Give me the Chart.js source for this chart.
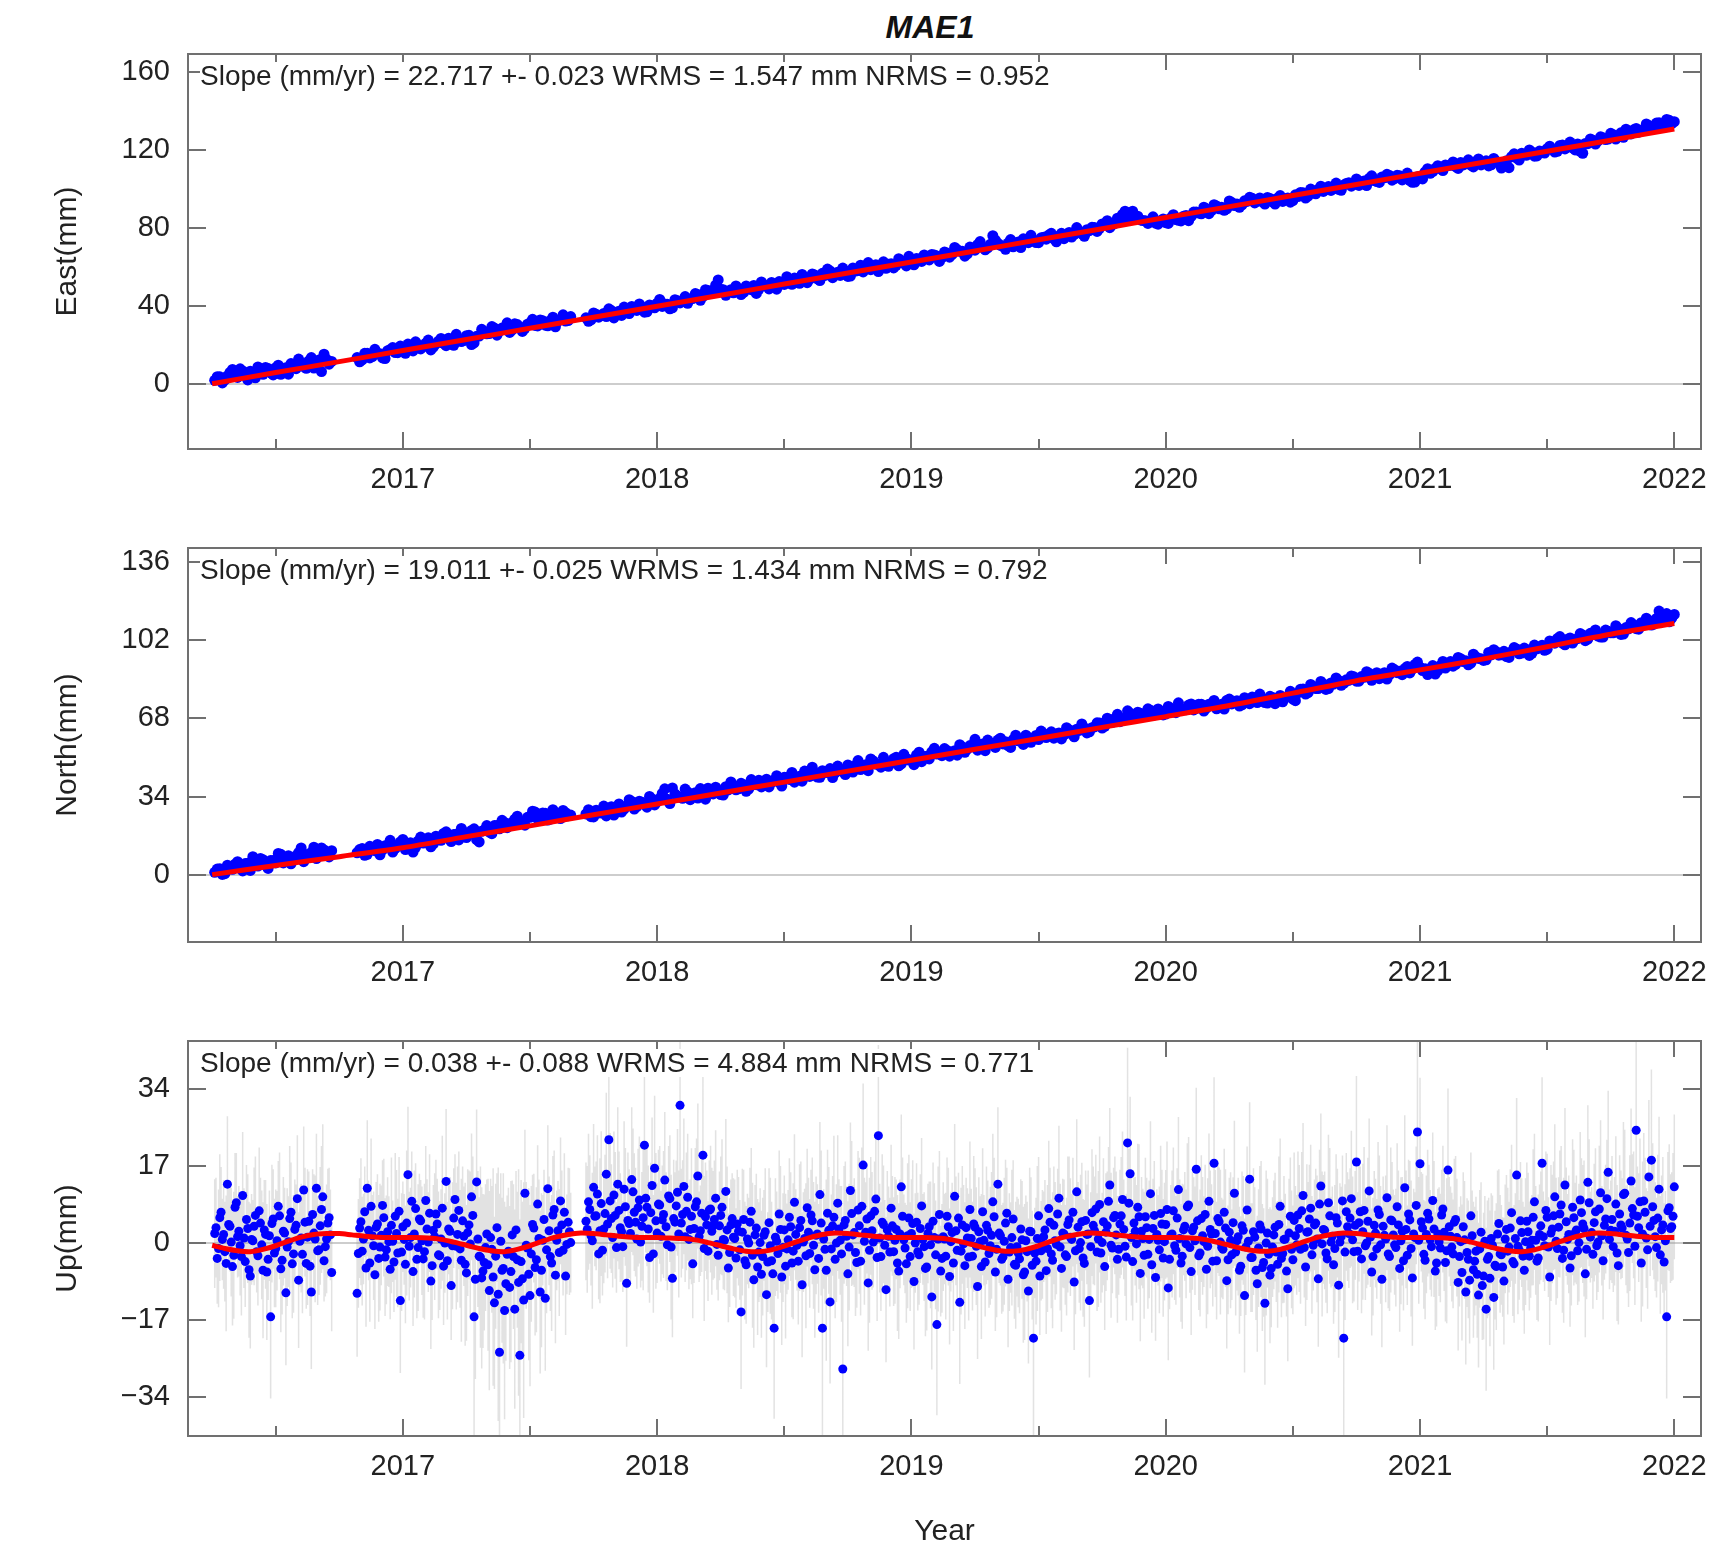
<!DOCTYPE html>
<html><head><meta charset="utf-8">
<script src="https://cdn.jsdelivr.net/npm/chart.js@4.4.1/dist/chart.umd.min.js"></script>
<style>
html,body{margin:0;padding:0;background:#fff;}
#wrap{position:relative;width:1716px;height:1545px;overflow:hidden;background:#fff;}
canvas{position:absolute;left:0;}
.ann{position:absolute;left:200px;font-family:'Liberation Sans',Arial,Helvetica,sans-serif;font-size:28px;line-height:28px;background:#fff;color:#222;white-space:nowrap;padding-right:3px;}
#title{position:absolute;left:780px;width:300px;top:11px;text-align:center;font-family:'Liberation Sans',Arial,Helvetica,sans-serif;font-size:32px;line-height:32px;font-weight:bold;font-style:italic;color:#111;}
</style></head>
<body><div id="wrap">
<div id="title">MAE1</div>
<canvas id="cE" width="1716" height="465" style="top:44px"></canvas>
<canvas id="cN" width="1716" height="464" style="top:538px"></canvas>
<canvas id="cU" width="1716" height="514" style="top:1031px"></canvas>
<div class="ann" style="top:62px">Slope (mm/yr) = 22.717 +- 0.023 WRMS = 1.547 mm NRMS = 0.952</div>
<div class="ann" style="top:556px">Slope (mm/yr) = 19.011 +- 0.025 WRMS = 1.434 mm NRMS = 0.792</div>
<div class="ann" style="top:1049px">Slope (mm/yr) = 0.038 +- 0.088 WRMS = 4.884 mm NRMS = 0.771</div>
</div>
<script>
// ---------------- data ----------------
const yearTicks = [2017, 2018, 2019, 2020, 2021, 2022];
const halfYearTicks = [2016.5, 2017.5, 2018.5, 2019.5, 2020.5, 2021.5];
const eastTicks = [0, 40, 80, 120, 160];
const northTicks = [0, 34, 68, 102, 136];
const upTicks = [-34, -17, 0, 17, 34];

// observing sessions (decimal years): set A and the interleaved set B
const sessionsA = [[2016.26, 2016.72], [2016.82, 2017.66], [2017.72, 2022.00]];
const sessionsB = [[2016.27, 2016.71], [2016.83, 2017.65], [2017.73, 2021.99]];
const upSessionsB = [[2016.265, 2016.715], [2016.825, 2017.655], [2017.725, 2021.995]];
const horizStep = 0.02;
const upStep = 0.01;

const eastValues = [
2.0,3.8,2.3,6.1,4.3,7.9,4.4,6.7,3.3,6.5,8.6,5.9,8.5,5.1,8.5,10.6,8.0,10.6,8.2,13.7,10.7,6.5,12.7,11.7,
13.7,12.5,15.9,14.2,15.9,13.5,17.2,18.8,16.2,18.0,20.6,17.1,20.2,19.3,22.7,19.1,22.1,21.0,23.6,20.0,23.1,22.4,25.1,21.2,24.7,27.1,26.0,28.8,27.3,28.3,26.6,31.0,29.4,28.7,31.5,30.2,33.0,30.3,32.7,29.5,33.1,32.4,34.7,
34.1,33.1,35.9,35.2,34.7,37.8,37.0,35.3,38.2,39.9,
37.9,39.7,37.2,40.1,41.6,39.9,41.1,39.2,42.9,42.6,
41.5,44.0,46.1,45.1,48.1,47.1,53.5,48.5,47.6,46.9,
48.8,47.1,49.1,50.7,48.7,50.9,48.9,51.1,52.7,51.2,
52.5,54.5,51.8,54.2,54.0,56.0,53.2,55.8,58.1,56.0,
55.8,58.0,55.5,58.1,61.1,59.8,58.8,61.3,60.5,59.5,
61.8,61.0,63.3,60.7,62.9,64.5,63.0,64.7,66.6,65.8,
65.0,67.3,66.6,69.1,68.2,66.9,69.8,71.6,70.3,70.0,
76.2,72.3,70.7,72.4,70.5,73.0,74.6,72.6,73.9,72.6,
75.4,76.5,74.6,76.0,74.7,77.9,76.9,78.3,75.9,78.8,
80.4,80.0,82.1,80.3,82.5,84.6,88.8,86.1,85.1,84.3,
83.9,83.3,82.6,83.9,82.9,85.4,84.5,83.8,86.6,86.1,
88.4,87.4,90.0,89.1,91.5,90.8,90.0,93.2,92.4,92.0,
93.8,95.4,94.0,93.5,95.8,93.6,95.5,93.8,95.6,94.2,
96.3,98.2,96.5,98.4,100.0,98.9,101.4,100.7,100.0,102.2,
103.4,102.5,102.0,104.3,105.6,104.5,103.5,105.9,107.1,105.5,
106.9,105.6,104.5,103.7,106.7,108.9,108.2,110.7,110.6,112.5,
112.3,111.6,113.7,113.1,112.4,114.2,112.5,114.6,112.6,114.4,
110.9,114.6,116.7,116.0,118.5,117.5,119.1,117.1,119.2,120.8,
120.6,119.5,122.7,121.6,121.3,123.3,118.5,123.4,125.1,124.8,
126.4,125.8,128.0,127.1,126.7,128.9,130.5,129.3,130.9,132.7,
131.3,134.1,133.0,135.4,134.7];
const eastValuesB = [
3.9,0.7,4.3,7.6,3.5,6.8,2.2,6.0,8.9,5.1,8.1,4.8,9.8,8.0,5.2,9.8,12.9,9.0,12.0,8.3,12.4,15.4,10.3,
11.5,15.9,13.5,17.9,15.6,13.2,17.8,16.3,19.6,15.9,18.8,21.8,18.1,21.1,17.6,20.7,23.5,19.8,22.7,25.6,21.9,24.9,20.4,24.6,28.2,25.9,29.6,25.2,28.8,31.5,27.9,30.6,27.1,30.8,33.3,29.9,32.6,30.0,34.4,32.4,35.6,32.7,
32.3,36.6,34.4,36.3,38.7,34.0,37.4,39.6,36.3,38.3,
41.2,37.0,40.7,39.2,43.5,41.2,38.7,43.4,41.7,45.0,
43.8,46.5,43.1,48.5,46.8,50.8,48.8,45.6,48.5,50.4,
46.0,50.4,48.5,46.6,52.5,50.5,52.2,48.8,52.1,55.2,
51.3,54.1,56.3,52.1,56.6,54.1,56.9,59.1,54.7,57.5,
59.6,55.3,59.7,58.3,57.6,62.4,60.3,57.8,62.8,61.6,
59.7,64.4,62.2,65.6,61.3,64.3,66.3,63.8,66.3,63.0,
67.8,65.2,70.2,68.2,65.7,70.4,68.8,73.2,69.0,71.8,
73.9,71.3,69.2,74.2,72.3,70.1,74.1,76.4,72.7,75.1,
74.4,77.4,73.1,77.4,76.7,75.5,80.4,77.2,79.3,80.5,
78.4,82.2,83.9,81.7,85.2,87.1,84.7,88.8,86.2,84.0,
82.5,85.9,82.1,84.8,82.5,87.0,84.1,86.2,83.9,88.3,
87.8,90.8,87.5,92.1,90.0,89.2,94.0,91.7,90.8,94.1,
95.9,93.0,95.6,92.4,95.3,92.4,96.8,95.1,93.4,97.2,
98.4,95.5,100.1,97.7,101.6,99.8,99.4,103.2,99.5,103.0,
101.6,105.3,103.8,101.9,106.9,104.0,106.3,107.7,104.7,107.2,
104.8,108.3,103.6,106.5,105.3,110.6,109.1,112.1,109.6,112.1,
114.0,110.7,112.5,115.1,111.5,115.6,113.3,112.0,115.8,113.6,
113.0,111.1,118.2,115.0,117.6,120.2,117.0,119.6,118.6,122.1,
119.1,122.5,120.7,124.2,120.2,119.4,123.5,125.8,123.2,126.9,
125.5,128.7,125.8,129.0,130.8,128.4,131.2,129.9,133.5,131.8,
134.0,132.1,135.8,133.7];

const northValues = [
1.1,2.7,0.5,2.9,4.6,2.8,4.9,1.9,4.7,7.1,4.2,6.2,5.2,8.9,6.7,4.8,8.2,11.7,7.6,9.7,7.1,11.7,9.3,10.5,
9.6,11.4,8.9,11.0,13.2,10.9,12.7,9.9,12.8,15.4,12.4,9.9,14.7,13.8,16.1,13.5,15.8,18.0,15.6,17.5,15.2,18.6,17.7,20.0,14.3,19.5,18.6,21.4,20.0,22.8,21.3,24.2,22.7,21.6,25.0,27.3,24.3,26.8,24.2,26.7,24.5,27.0,26.0,
26.5,25.3,28.1,26.9,25.6,29.6,28.5,27.3,30.0,31.9,
29.7,31.6,29.4,33.0,31.7,35.4,32.9,37.8,34.3,33.3,
36.0,34.6,33.4,35.9,37.7,35.2,36.8,34.7,36.9,38.8,
37.4,39.2,37.3,39.2,41.1,39.7,38.2,41.2,40.2,42.4,
41.5,40.3,42.9,45.1,42.8,44.4,42.4,44.4,46.2,44.3,
45.8,43.6,46.0,47.6,45.8,47.9,50.4,48.1,46.8,49.0,
48.7,51.1,48.2,50.6,49.9,52.1,49.2,51.6,53.5,52.5,
51.8,54.1,53.4,52.0,55.6,54.7,55.7,54.2,56.9,58.6,
56.8,58.6,56.9,56.2,58.8,58.3,56.7,59.7,59.2,58.8,
61.4,60.7,59.4,61.7,60.9,63.1,60.0,62.8,63.9,62.2,
64.3,66.0,64.6,66.2,68.0,66.6,68.3,70.2,68.9,70.3,
69.3,71.6,69.7,71.2,69.9,72.4,70.5,72.2,71.8,74.3,
72.4,74.2,72.5,74.1,72.2,74.2,75.8,74.3,75.7,73.9,
75.8,77.3,74.9,76.6,74.7,77.1,76.0,75.2,77.4,76.4,
79.1,80.8,79.2,81.9,81.0,83.0,81.0,82.9,84.5,83.2,
84.5,86.1,84.2,85.9,87.6,86.2,85.3,87.9,87.1,89.2,
88.5,89.7,87.8,91.5,90.3,89.6,88.0,87.3,91.0,89.9,
92.7,91.5,94.0,93.1,92.0,94.8,93.9,93.5,95.6,97.0,
95.7,94.9,97.0,98.2,96.4,97.9,96.3,98.3,99.8,98.1,
101.1,102.7,100.8,102.4,100.8,102.7,104.3,102.5,104.5,103.8,
103.4,105.9,105.2,107.1,104.7,106.9,108.7,106.8,108.7,110.6,
109.0,114.7,111.2,110.0,113.2];
const northValuesB = [
2.5,0.2,4.2,2.4,5.7,1.7,5.0,7.9,3.8,6.6,2.8,6.2,9.3,5.2,8.3,6.5,9.7,5.7,9.1,12.0,8.3,10.8,7.8,
11.0,8.5,12.4,10.5,8.7,12.7,15.0,11.5,14.3,11.0,13.9,12.0,16.4,14.4,12.2,16.8,15.0,18.7,14.5,17.6,20.2,16.2,19.3,15.3,18.9,21.4,17.9,21.5,23.7,20.5,22.8,25.5,22.4,25.0,27.7,24.3,26.9,23.8,28.3,25.4,28.0,25.7,
28.3,25.2,26.9,29.9,28.7,26.0,30.8,28.6,32.7,28.6,
32.0,30.6,34.1,30.4,33.2,37.4,31.0,35.2,33.7,37.3,
32.7,35.7,37.5,32.9,36.2,38.1,34.9,38.3,40.4,37.0,
39.8,36.3,41.4,39.2,38.2,41.6,40.2,43.1,38.6,42.4,
44.5,41.8,40.7,44.4,46.8,42.5,45.3,44.5,42.3,47.3,
44.9,47.8,44.7,49.7,47.3,45.3,49.5,48.0,51.1,47.2,
50.5,47.4,52.4,49.9,47.9,53.3,51.5,50.4,55.0,53.2,
54.9,51.6,54.0,56.6,53.3,56.2,58.9,55.8,54.0,57.4,
55.4,59.4,57.9,55.4,60.7,58.4,60.7,57.6,60.6,62.5,
59.7,62.2,61.2,59.1,64.0,61.2,63.3,65.6,61.7,64.0,
66.1,63.8,68.1,66.3,69.8,67.8,71.3,68.2,70.7,69.7,
72.2,69.3,72.1,69.5,73.2,71.8,74.8,71.9,73.8,71.7,
74.2,71.2,74.2,75.8,73.5,72.1,76.4,75.3,73.4,77.0,
74.4,77.0,78.6,74.9,77.6,74.4,78.0,76.9,79.8,75.7,
80.7,78.6,82.8,81.0,84.1,80.6,83.4,85.6,82.4,84.8,
86.5,84.2,86.2,88.3,84.6,87.9,86.9,85.1,89.9,87.9,
87.0,90.6,89.4,92.5,88.8,87.1,91.0,88.8,92.8,91.6,
90.7,94.5,92.7,91.3,95.9,94.1,93.2,96.7,97.9,95.5,
97.2,94.5,98.8,96.1,98.6,95.4,99.9,98.7,97.6,101.7,
100.7,103.6,100.0,103.0,102.3,104.9,101.8,105.0,106.5,103.4,
106.4,105.2,108.3,104.5,107.5,109.7,107.0,109.6,111.6,108.6,
111.5,110.3,113.6,111.6];

const upValues = [
2.1,-3.4,5.6,0.8,-1.9,13.0,3.7,-5.2,7.9,1.4,
-0.6,10.5,-4.1,3.2,-7.3,0.5,6.1,-2.8,4.4,-6.0,
1.9,-3.6,-16.3,5.3,-1.2,8.1,-5.7,2.6,-11.0,0.3,
6.8,-2.4,3.9,-8.2,1.1,11.7,-4.5,4.8,-10.8,2.2,
12.1,-1.5,7.4,-3.9,0.9,5.6,-6.5,
-11.1,3.3,-1.8,6.9,12.1,-4.4,1.6,-7.0,4.2,-0.9,
8.3,-3.1,2.5,-5.8,0.4,5.9,-2.2,-12.7,3.6,-4.7,
15.1,1.2,-6.3,7.6,-1.0,4.9,-3.5,9.4,0.2,-8.4,
2.8,6.4,-2.6,0.9,-5.1,13.6,3.1,-9.4,5.5,-0.7,
7.2,-3.8,1.5,-6.6,4.0,10.2,-16.3,13.5,-2.9,-7.7,
-4.3,2.0,-10.5,-1.4,-13.2,3.4,-24.1,-6.0,-14.9,-2.5,
-9.8,1.8,-14.6,-3.7,-24.8,-7.9,11.0,-1.1,-11.6,4.1,
-5.4,8.6,-10.8,0.6,-12.2,12.0,-3.0,6.2,-7.1,2.7,
9.3,-1.6,-7.3,4.6,0.1,
4.8,9.1,1.6,12.3,6.0,-2.4,8.7,3.1,15.2,22.8,
5.4,10.6,-1.0,7.2,2.5,11.9,-8.9,4.3,14.0,6.8,
0.9,9.5,3.7,21.6,7.9,-3.2,12.7,16.5,2.2,8.4,
5.1,13.9,-0.4,9.8,-7.8,4.6,11.2,30.4,6.3,1.4,
10.1,3.0,-4.6,8.0,14.8,2.7,19.4,5.8,-1.8,7.5,
3.9,9.9,-2.7,6.1,0.8,11.4,-5.5,4.0,1.3,-3.3,
2.6,-15.2,5.2,-4.8,0.0,7.0,-8.1,3.3,-2.0,-6.9,
1.7,-11.4,4.5,-3.9,-18.8,0.4,6.4,-7.5,2.9,-1.3,
5.7,-4.4,9.0,-0.5,3.4,-9.2,1.0,7.8,-2.3,4.9,
-5.9,2.0,10.7,-18.8,-1.4,6.6,-13.0,3.8,-3.6,8.8,
0.6,-27.8,5.0,-6.8,11.6,1.8,-2.1,7.3,-4.0,17.2,
2.4,-8.8,6.0,0.2,9.7,23.7,-3.0,4.1,-10.3,1.5,
7.7,-1.9,3.0,-6.2,12.4,0.7,-4.6,5.5,2.1,-8.5,
4.6,-2.6,8.2,-0.8,-5.3,3.6,-11.9,1.2,-18.0,6.3,
-3.4,0.9,5.9,-7.4,2.3,10.3,-1.6,-13.1,4.0,-5.0,
1.1,7.4,-2.9,3.5,-9.6,0.3,6.9,-4.2,2.8,-0.6,
9.1,-6.4,13.0,1.6,-3.1,4.4,-8.0,-1.0,5.3,-4.9,
-2.2,3.1,-7.0,0.5,-10.6,2.5,-21.0,-4.0,6.0,-1.7,
1.4,-6.1,7.6,-2.4,3.9,-0.3,9.9,-5.6,2.0,-3.0,
5.1,0.8,-8.6,11.3,-1.2,4.7,-4.5,1.9,-12.7,6.7,
2.7,-2.0,8.5,0.1,-5.2,3.8,12.8,-1.1,6.1,-3.6,
4.2,9.6,-0.7,22.1,15.3,-4.1,2.6,7.9,-6.7,1.0,
5.8,-2.5,10.9,3.2,-7.6,0.6,6.5,-3.3,4.1,-9.9,
1.8,7.1,-1.6,11.8,-4.4,2.9,-0.2,8.4,-6.3,3.5,
16.3,-2.8,5.4,0.3,-5.8,9.2,2.0,17.6,-3.9,4.7,
-1.0,6.8,-8.3,2.4,-2.6,11.0,0.5,-6.0,3.8,-11.6,
7.3,14.1,-3.2,1.3,-9.0,4.0,-5.4,-13.3,2.2,-7.1,
-0.9,3.5,-4.7,8.1,-2.3,0.9,-10.1,5.9,-3.7,1.6,
6.2,-1.4,10.5,-5.3,2.5,7.7,-0.5,4.4,-7.9,12.6,
3.0,-2.2,8.9,0.2,-4.8,5.6,-9.3,1.4,-21.0,6.9,
2.1,9.8,-1.9,17.9,4.5,-3.5,7.2,0.0,11.5,-6.4,
3.9,-1.3,6.3,-8.0,1.7,10.0,-3.0,4.9,-0.4,8.0,
-5.6,2.6,12.2,-2.7,5.1,-7.7,1.2,24.5,17.5,3.3,
-3.8,6.6,0.7,9.4,-6.2,2.0,-1.1,7.5,-4.3,16.1,
1.5,-2.4,5.2,-8.7,0.3,3.6,-10.8,-3.6,6.0,-5.9,
-1.8,-11.5,2.4,-7.3,-14.6,-3.0,1.0,-12.0,-5.2,4.3,
-2.6,-8.4,3.0,-0.9,6.7,-4.6,15.0,-1.5,2.3,-6.0,
4.8,-2.9,0.6,9.1,-4.0,1.9,17.6,-0.6,5.7,-7.5,
3.1,10.2,-1.2,6.4,-3.4,12.8,0.8,-5.5,7.9,2.3,
-1.7,9.5,4.2,-6.8,13.4,1.3,-2.5,6.9,0.2,11.1,
-3.9,5.3,15.6,2.8,-0.8,8.6,-5.0,4.0,10.7,1.7,
-2.1,13.7,6.2,24.9,3.4,-4.4,9.3,1.1,14.6,18.3,
5.0,-1.0,11.9,2.9,-4.2,-16.3,7.8,3.6,12.4];
const upValuesB = [
3.4,-1.2,6.8,1.9,-4.5,4.1,0.2,-2.7,8.9,2.6,
-3.0,1.1,5.2,-5.9,0.8,3.7,-1.9,7.1,-0.4,2.9,
-6.4,1.6,4.3,-2.2,0.5,6.0,-3.8,2.2,-0.9,5.4,
-4.6,3.0,9.8,0.4,-2.5,4.6,1.3,-5.1,6.3,0.9,
-1.7,3.8,10.2,-0.8,4.4,1.8,
-2.3,4.7,0.9,-5.5,2.8,8.1,-0.6,3.5,-3.4,1.7,
5.6,-1.5,0.3,3.9,-4.2,2.1,7.0,-2.0,0.8,4.4,
-0.7,9.2,2.0,-3.6,5.3,0.5,-1.9,3.1,6.6,-5.0,
1.4,4.2,-2.8,7.7,0.0,-3.9,2.6,-0.6,9.6,1.9,
-1.3,4.9,-4.7,2.3,-0.2,6.1,-8.0,0.9,-3.1,-6.2,
-1.0,-4.8,1.2,-7.5,-2.9,-11.3,0.4,-5.6,-9.0,-1.8,
-6.3,-3.0,2.9,-8.7,-4.1,-12.6,-0.5,-6.9,-2.4,3.3,
-3.7,1.0,-6.0,5.2,-1.5,2.7,-4.4,7.4,0.6,-2.1,
4.0,6.8,-0.3,2.5,
3.0,7.4,0.5,5.9,10.8,2.7,-1.6,6.5,4.2,9.3,
1.2,6.1,13.0,3.4,-0.8,8.0,5.0,2.1,11.3,4.6,
7.8,0.2,5.6,9.9,3.1,6.7,-2.4,4.9,8.6,1.5,
6.3,3.6,10.4,-0.9,5.4,8.2,2.0,4.4,12.5,7.0,
0.8,5.9,3.2,9.1,1.4,6.6,-1.2,4.0,7.3,2.6,
5.2,-0.3,3.8,7.9,0.6,2.9,-2.1,5.4,1.0,4.2,
-1.5,2.4,-3.9,0.9,4.6,-2.7,1.8,-5.3,0.1,-3.0,
2.5,-4.2,-0.6,-6.8,1.3,-2.3,3.0,-1.0,-5.1,0.7,
3.6,-1.8,1.9,-4.0,5.0,0.2,-2.8,2.4,6.2,-0.5,
1.7,-3.4,4.4,0.9,-6.0,2.8,-1.3,5.7,0.0,3.1,
-2.4,4.0,1.5,-0.9,6.5,2.3,-4.3,3.8,8.1,0.4,
5.3,-1.6,2.7,7.0,-3.2,1.1,4.6,-0.5,2.9,-2.0,
3.8,0.6,-4.4,2.0,5.9,-1.1,1.6,-3.0,4.3,0.0,
-1.9,3.2,0.8,-5.6,2.1,-0.4,4.8,-2.6,0.9,-6.2,
1.4,-2.9,3.6,0.3,-4.4,2.7,5.5,-1.8,-0.2,3.4,
-3.1,1.0,4.2,-0.7,2.5,-5.2,0.6,3.9,-2.3,1.7,
5.8,-1.4,2.2,-3.6,0.4,6.6,-2.0,1.2,-4.7,-0.8,
-3.5,0.7,-6.4,-1.9,2.6,-4.9,-2.2,1.0,-7.3,-0.3,
2.9,-1.2,4.6,-3.8,0.5,6.4,-0.9,2.2,-2.6,4.1,
1.3,6.8,-1.7,3.5,0.1,-3.3,5.0,2.0,-0.8,3.9,
7.5,0.9,-2.2,4.7,2.4,9.2,-0.5,5.6,1.8,-1.4,
6.0,3.0,-3.1,8.8,1.2,4.4,-0.2,5.8,2.6,-2.7,
3.4,0.8,-4.8,6.1,1.9,-1.5,4.2,0.3,7.4,-3.6,
2.0,-0.6,5.5,1.0,-2.9,3.7,8.0,-1.0,2.7,0.5,
4.9,-2.2,1.6,6.3,-0.7,3.0,-4.0,2.1,5.4,0.2,
-1.4,3.3,-3.7,0.6,4.5,-2.0,1.4,-5.1,2.8,-0.9,
0.4,-3.2,2.5,-6.0,-1.1,3.1,-4.3,0.0,-2.5,-5.6,
1.8,-2.0,4.1,-3.4,0.8,-6.2,2.2,-1.4,5.0,-0.4,
3.2,7.1,-1.0,2.4,5.3,-2.6,4.0,0.9,8.6,-0.2,
2.8,-3.5,6.0,1.5,-1.2,4.4,0.2,9.3,-2.0,3.6,
5.5,0.7,3.9,-1.8,6.9,2.5,-0.6,4.8,1.3,-3.0,
2.2,7.3,-0.4,3.7,0.9,-2.4,5.1,1.8,-1.0,4.0,
0.5,-3.9,3.0,6.4,-1.2,2.0,8.3,0.6,4.7,-2.5,
1.9,5.3,-0.8,3.1,-4.4,0.3,6.2,2.4,-1.7,3.6,
-0.9,4.6,1.2,-3.0,-6.5,0.7,-2.1,-8.2,1.6,-4.0,
-6.9,-1.3,-9.4,0.4,-3.6,-7.8,-0.5,-4.9,2.0,-2.4,
-5.3,0.9,-1.8,3.3,-4.1,1.0,-0.7,4.9,-2.9,0.3,
2.5,-1.1,5.7,0.6,-3.3,3.8,1.4,7.2,-0.9,2.2,
6.0,0.4,3.5,8.4,-1.6,4.7,1.9,-2.8,5.6,2.9,
0.1,6.7,3.2,-1.4,8.9,2.3,4.5,-0.6,7.5,1.6,
3.9,9.8,0.8,5.2,2.6,-2.2,6.4,3.3,11.0,0.9,
4.4,7.6,-0.7,5.9,9.1,2.0,6.8,-1.5,3.7,8.0,
1.4,5.5,-2.6,4.0,0.5,7.1,3.2,5.9];

const upSigma = [
12,10,14,9,11,15,10,13,12,9,11,14,10,12,16,9,13,11,10,15,12,9,18,11,13,10,14,12,16,10,11,13,9,15,12,14,10,11,17,13,12,10,14,9,12,11,13,
14,11,12,10,15,13,9,12,11,14,10,13,12,11,9,14,12,16,10,13,15,11,12,10,14,9,13,12,11,15,10,12,14,11,13,16,10,12,11,14,
13,18,11,15,12,14,28,16,13,20,15,12,22,14,19,12,35,16,24,13,18,12,22,15,30,17,14,12,20,11,15,13,18,10,16,14,12,13,15,11,14,10,13,12,11,
13,15,11,14,12,10,16,12,18,20,12,14,10,13,11,15,14,12,16,13,11,14,12,19,13,10,15,16,11,13,12,15,10,14,13,11,14,22,12,10,
14,11,12,13,16,10,18,12,11,14,12,15,10,13,11,16,12,10,13,11,12,17,11,13,10,14,15,12,11,14,10,16,12,13,20,11,14,15,12,10,
13,12,15,10,14,16,11,13,12,14,15,11,16,24,12,14,18,11,13,15,12,30,13,16,15,11,14,13,12,18,11,15,13,10,14,20,12,13,16,11,
14,12,11,15,16,10,13,14,12,15,13,11,15,12,14,10,16,12,20,14,12,10,13,15,11,16,12,18,13,14,11,15,12,13,16,10,14,12,11,13,
15,13,17,11,12,14,15,10,13,14,12,11,15,10,16,12,22,14,13,11,10,14,15,12,13,11,16,14,12,13,14,10,15,16,12,13,14,11,17,14,
12,13,15,11,14,12,17,10,13,14,12,15,11,21,17,13,12,14,15,11,13,12,16,11,14,10,15,13,12,16,11,14,12,16,13,10,12,15,14,11,
18,12,14,10,13,15,11,19,13,12,11,14,15,12,10,16,11,14,12,17,14,17,12,11,15,13,14,18,12,15,11,12,14,15,11,10,16,13,12,11,
14,12,16,13,11,14,10,12,15,16,12,11,15,10,13,14,16,11,24,13,12,15,11,19,13,12,14,10,16,14,12,11,13,15,10,16,12,13,11,14,
14,12,16,11,13,15,10,26,19,12,13,14,11,15,13,10,12,14,13,18,11,12,14,15,10,12,16,13,14,15,12,16,11,14,18,13,10,16,14,12,
11,14,12,10,15,13,17,11,12,14,13,12,10,15,13,11,19,10,14,15,12,16,11,14,12,17,10,13,15,11,12,15,13,14,17,10,12,14,11,16,
13,12,18,11,10,15,13,12,16,11,12,16,14,26,12,13,15,11,17,20,13,11,16,12,13,18,14,12,16];
const upSigmaB = [
11,13,10,12,15,9,12,14,11,10,13,11,12,15,10,13,9,14,12,11,15,10,13,12,11,14,12,10,13,16,12,11,14,10,13,12,15,11,10,14,12,13,16,11,12,10,
12,14,10,13,11,15,12,10,14,11,13,12,10,15,11,14,12,13,10,16,12,11,14,13,10,12,15,11,13,12,14,10,12,16,11,13,12,14,10,15,
13,12,18,14,16,13,22,15,20,17,14,19,13,24,16,28,15,21,17,14,20,16,13,25,18,26,14,19,15,12,16,13,17,11,14,12,15,13,11,14,12,13,11,14,
14,12,15,11,13,16,10,13,12,15,11,14,17,12,10,13,15,11,14,12,13,10,16,12,14,11,13,15,12,10,14,12,11,16,13,10,14,12,15,13,
11,15,12,14,10,13,16,12,11,14,13,10,12,15,11,14,12,10,13,12,11,14,13,10,12,16,11,15,12,13,14,11,15,12,13,10,14,12,16,11,
12,15,10,14,13,11,16,12,10,14,13,12,16,11,20,14,12,18,13,11,15,13,11,14,16,12,10,15,13,14,12,16,13,11,14,12,15,10,13,12,
11,14,15,12,13,10,16,12,14,11,13,12,10,15,11,14,13,12,16,10,12,14,13,11,15,12,10,14,13,11,14,11,15,13,12,16,10,13,12,14,
13,15,11,12,14,10,13,15,12,11,12,13,15,11,14,12,10,16,13,12,11,14,12,15,13,10,14,12,11,15,13,12,14,10,15,13,11,14,12,13,
12,15,11,14,13,12,16,11,14,10,13,11,14,12,15,10,13,16,12,14,11,13,15,12,10,14,12,13,15,11,14,12,11,13,16,12,14,10,13,12,
12,14,13,11,15,13,10,14,12,16,11,13,12,15,10,14,13,11,12,15,13,12,14,11,13,15,12,16,10,13,12,11,15,13,14,10,12,13,15,11,
14,13,11,15,12,13,10,14,12,16,13,12,15,11,14,12,13,10,15,12,11,14,12,13,10,15,12,14,11,13,12,15,13,11,14,12,16,10,13,12,
14,11,13,12,15,10,13,14,11,12,13,12,11,15,14,12,10,13,16,11,12,14,13,11,15,13,12,14,10,12,14,13,12,10,13,15,11,12,14,13,
11,12,14,13,12,10,15,13,12,14,13,11,15,12,14,12,10,13,11,15,12,14,11,13,16,12,13,11,15,12,13,12,15,11,14,10,13,12,14,11,
12,13,11,14,12,15,13,11,14,12,15,12,13,11,14,16,12,13,11,14,12,14,13,15,11,13,12,14];

// fitted model curves (red)
const modelYears = [2016.25,2016.5,2016.75,2017.0,2017.25,2017.5,2017.75,2018.0,2018.25,2018.5,2018.75,2019.0,2019.25,2019.5,2019.75,2020.0,2020.25,2020.5,2020.75,2021.0,2021.25,2021.5,2021.75,2022.0];
const eastModel = [0.3,6.0,11.6,17.3,23.0,28.7,34.4,40.0,45.7,51.4,57.1,62.7,68.4,74.1,79.8,85.5,91.1,96.8,102.5,108.2,113.9,119.5,125.2,130.9];
const northModel = [0.1,4.1,7.9,11.8,16.6,21.3,26.1,30.8,35.6,40.3,45.1,49.8,54.6,59.3,64.1,68.8,73.6,79.0,84.4,89.1,93.9,99.2,104.6,109.3];
const upModelStart = 2016.25, upModelStep = 0.05;
const upModel = [
-0.5,-1.2,-1.7,-1.9,-1.4,-0.6,0.4,1.3,1.9,2.1,2.1,1.8,1.5,1.3,1.2,
1.2,1.2,1.1,0.8,0.2,-0.5,-1.2,-1.7,-1.9,-1.4,-0.6,0.4,1.3,1.9,2.2,2.1,1.8,1.5,1.3,1.2,
1.2,1.1,1.0,0.7,0.1,-0.6,-1.3,-1.8,-1.9,-1.5,-0.7,0.3,1.2,1.9,2.2,2.1,1.8,1.5,1.3,1.2,
1.2,1.2,1.1,0.8,0.2,-0.5,-1.2,-1.7,-1.8,-1.4,-0.6,0.4,1.3,1.9,2.2,2.1,1.8,1.5,1.3,1.2,
1.2,1.2,1.1,0.8,0.2,-0.5,-1.2,-1.7,-1.8,-1.4,-0.6,0.4,1.3,1.9,2.2,2.1,1.8,1.5,1.3,1.2,
1.2,1.2,1.1,0.8,0.2,-0.5,-1.2,-1.7,-1.9,-1.5,-0.7,0.3,1.2,1.9,2.2,2.1,1.8,1.5,1.3,1.2,
1.2];

// ---------------- helpers ----------------
const FONT = "'Liberation Sans', Arial, Helvetica, sans-serif";
function epochs(segs, step){
  const out = [];
  segs.forEach(([a,b]) => { const n = Math.round((b-a)/step); for (let i=0;i<=n;i++) out.push(+(a+i*step).toFixed(4)); });
  return out;
}
function pts(xs, ys, ss){
  const n = Math.min(xs.length, ys.length, ss ? ss.length : Infinity); const o = [];
  for (let i=0;i<n;i++) o.push(ss ? {x:xs[i], y:ys[i], s:ss[i]} : {x:xs[i], y:ys[i]});
  return o;
}
const fmt = v => v < 0 ? '\u2212' + Math.abs(v) : String(v);

const frameTicks = {
  id: 'frameTicks',
  afterDatasetsDraw(chart){
    const {ctx, chartArea:a, scales:{x, y}} = chart;
    ctx.save();
    ctx.strokeStyle = '#707070'; ctx.lineWidth = 2;
    ctx.strokeRect(a.left, a.top, a.right-a.left, a.bottom-a.top);
    ctx.beginPath();
    yearTicks.forEach(v => { const p = Math.round(x.getPixelForValue(v));
      ctx.moveTo(p, a.bottom); ctx.lineTo(p, a.bottom-17); ctx.moveTo(p, a.top); ctx.lineTo(p, a.top+16); });
    halfYearTicks.forEach(v => { const p = Math.round(x.getPixelForValue(v));
      ctx.moveTo(p, a.bottom); ctx.lineTo(p, a.bottom-10); ctx.moveTo(p, a.top); ctx.lineTo(p, a.top+9); });
    y.ticks.forEach(t => { const p = Math.round(y.getPixelForValue(t.value));
      ctx.moveTo(a.left, p); ctx.lineTo(a.left+18, p); ctx.moveTo(a.right, p); ctx.lineTo(a.right-18, p); });
    ctx.stroke();
    ctx.restore();
  }
};

const errorBars = {
  id: 'errorBars',
  beforeDatasetsDraw(chart){
    const ds = chart.data.datasets[1];
    if (!ds || !ds.data.length || ds.data[0].s === undefined) return;
    const {ctx, chartArea:a, scales:{x, y}} = chart;
    ctx.save();
    ctx.beginPath(); ctx.rect(a.left, a.top, a.right-a.left, a.bottom-a.top); ctx.clip();
    ctx.strokeStyle = 'rgba(150,150,150,0.28)'; ctx.lineWidth = 1.5;
    ctx.beginPath();
    ds.data.forEach(p => {
      const px = x.getPixelForValue(p.x);
      ctx.moveTo(px, y.getPixelForValue(p.y + p.s));
      ctx.lineTo(px, y.getPixelForValue(p.y - p.s));
    });
    ctx.stroke();
    ctx.restore();
  }
};

function makePanel(id, o){
  return new Chart(document.getElementById(id), {
    type: 'scatter',
    data: { datasets: [
      { label: 'model', data: o.model, showLine: true, borderColor: '#ff0000', borderWidth: 5,
        pointRadius: 0, tension: 0.3, fill: false, order: 0 },
      { label: 'obs', data: o.obs, pointRadius: o.r, pointBackgroundColor: '#0000ff',
        pointBorderColor: '#0000ff', pointBorderWidth: 0, backgroundColor: '#0000ff', order: 1 }
    ]},
    options: {
      responsive: false, animation: false, devicePixelRatio: 1,
      layout: { padding: { left: 0, right: 15, top: 10, bottom: 0 } },
      plugins: { legend: { display: false }, tooltip: { enabled: false } },
      scales: {
        x: { type: 'linear', position: 'bottom', min: 2016.155, max: 2022.105,
          afterBuildTicks: s => { s.ticks = yearTicks.map(v => ({value: v})); },
          afterFit: s => { s.height = o.xh; s.paddingLeft = 0; s.paddingRight = 0; },
          grid: { display: false, drawTicks: false }, border: { display: false },
          ticks: { padding: 14, autoSkip: false, maxRotation: 0, color: '#222', font: { family: FONT, size: 29 }, callback: v => String(v) },
          title: { display: !!o.xTitle, text: o.xTitle || '', color: '#222', font: { family: FONT, size: 30, lineHeight: 0.9 }, padding: { top: 0, bottom: 0 } }
        },
        y: { type: 'linear', min: o.ymin, max: o.ymax,
          afterBuildTicks: s => { s.ticks = o.yTicks.map(v => ({value: v})); },
          afterFit: s => { s.width = 188; s.paddingTop = 0; s.paddingBottom = 0; },
          grid: { drawTicks: false, lineWidth: 2, color: c => (c.tick && c.tick.value === 0) ? '#cdcdcd' : 'rgba(0,0,0,0)' },
          border: { display: false },
          ticks: { padding: 18, autoSkip: false, color: '#222', font: { family: FONT, size: 29 }, callback: v => fmt(v) },
          title: { display: true, text: o.yTitle, color: '#222', font: { family: FONT, size: 30 }, padding: { top: 50, bottom: 0 } }
        }
      }
    },
    plugins: [errorBars, frameTicks]
  });
}

const hA = epochs(sessionsA, horizStep), hB = epochs(sessionsB, horizStep);
const uA = epochs(sessionsA, upStep), uB = epochs(upSessionsB, upStep);
const upModelYears = upModel.map((_, i) => +(upModelStart + i*upModelStep).toFixed(3));

makePanel('cE', { obs: pts(hA, eastValues).concat(pts(hB, eastValuesB)), model: pts(modelYears, eastModel), r: 5.5,
  ymin: -33.2, ymax: 169.4, yTicks: eastTicks, yTitle: 'East(mm)', xh: 60 });
makePanel('cN', { obs: pts(hA, northValues).concat(pts(hB, northValuesB)), model: pts(modelYears, northModel), r: 5.5,
  ymin: -29.2, ymax: 142.1, yTicks: northTicks, yTitle: 'North(mm)', xh: 60 });
makePanel('cU', { obs: pts(uA, upValues, upSigma).concat(pts(uB, upValuesB, upSigmaB)), model: pts(upModelYears, upModel), r: 4.5,
  ymin: -42.6, ymax: 44.6, yTicks: upTicks, yTitle: 'Up(mm)', xTitle: 'Year', xh: 109 });
</script>
</body></html>
